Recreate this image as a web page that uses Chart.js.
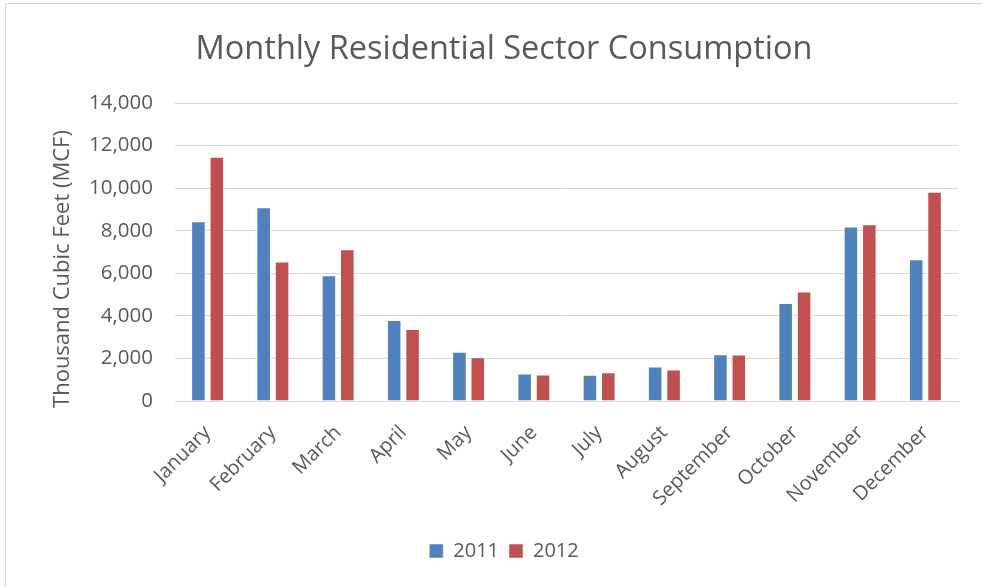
<!DOCTYPE html>
<html>
<head>
<meta charset="utf-8">
<script src="https://cdn.jsdelivr.net/npm/chart.js@4/dist/chart.umd.min.js"></script>
<style>
  html, body { margin: 0; padding: 0; background: #fff; }
  #frame { position: absolute; left: 5px; top: 3px; width: 990px; height: 600px; border-left: 1px solid #d9d9d9; border-top: 1px solid #d9d9d9; }
  #wrap { position: absolute; left: 0; top: 0; width: 982px; height: 587px; }
</style>
</head>
<body>
<div id="frame"></div>
<div id="wrap"><canvas id="c" width="982" height="587"></canvas></div>
<script>
const months = ["January","February","March","April","May","June","July","August","September","October","November","December"];
const series2011 = [8450, 9100, 5910, 3800, 2310, 1290, 1230, 1620, 2200, 4600, 8200, 6660];
const series2012 = [11480, 6550, 7130, 3380, 2060, 1240, 1350, 1480, 2190, 5140, 8300, 9830];
const yTicks = [0, 2000, 4000, 6000, 8000, 10000, 12000, 14000];
const yTitle = 'Thousand Cubic Feet (MCF)';

const FONT = "'Open Sans', sans-serif";
const TXT = '#595959';

const yTitlePlugin = {
  id: 'yTitlePlugin',
  afterDraw(chart) {
    const { ctx, chartArea } = chart;
    ctx.save();
    ctx.fillStyle = TXT;
    ctx.font = "22px 'Open Sans', sans-serif";
    ctx.textAlign = 'center';
    ctx.textBaseline = 'middle';
    ctx.translate(chartArea.left - 112, (chartArea.top + chartArea.bottom) / 2 + 17);
    ctx.rotate(-Math.PI / 2);
    ctx.fillText(yTitle, 0, 0);
    ctx.restore();
  }
};

new Chart(document.getElementById('c'), {
  type: 'bar',
  data: {
    labels: months,
    datasets: [
      { label: '2011', data: series2011, backgroundColor: '#4F81BD', borderColor: 'rgba(255,255,255,0.5)', borderWidth: 1, categoryPercentage: 0.564, barPercentage: 0.79 },
      { label: '2012', data: series2012, backgroundColor: '#C0504D', borderColor: 'rgba(255,255,255,0.5)', borderWidth: 1, categoryPercentage: 0.564, barPercentage: 0.79 }
    ]
  },
  plugins: [yTitlePlugin],
  options: {
    responsive: false,
    animation: false,
    layout: { padding: { left: 50, right: 24, top: 0, bottom: 16 } },
    plugins: {
      title: {
        display: true,
        text: 'Monthly Residential Sector Consumption',
        color: TXT,
        font: { family: FONT, size: 32.5, weight: 'normal' },
        padding: { top: 30, bottom: 34 }
      },
      legend: {
        position: 'bottom',
        labels: {
          color: TXT,
          font: { family: FONT, size: 20 },
          boxWidth: 14, boxHeight: 14,
          padding: 10
        }
      },
      tooltip: { enabled: false }
    },
    scales: {
      x: {
        grid: { display: false, drawTicks: false },
        border: { display: true, color: '#d9d9d9' },
        ticks: {
          color: TXT,
          font: { family: FONT, size: 20 },
          maxRotation: 45, minRotation: 45,
          padding: 20
        },
        afterFit: (s) => { s.height = 130; }
      },
      y: {
        min: 0, max: 14000,
        afterBuildTicks: (s) => { s.ticks = yTicks.map(v => ({ value: v })); },
        grid: { color: '#d9d9d9', drawTicks: false },
        border: { display: false },
        ticks: {
          color: TXT,
          font: { family: FONT, size: 20.5 },
          padding: 22,
          callback: (v) => v.toLocaleString('en-US')
        },
        title: { display: false },
        afterFit: (s) => { s.width = 125; }
      }
    }
  }
});
</script>
</body>
</html>
